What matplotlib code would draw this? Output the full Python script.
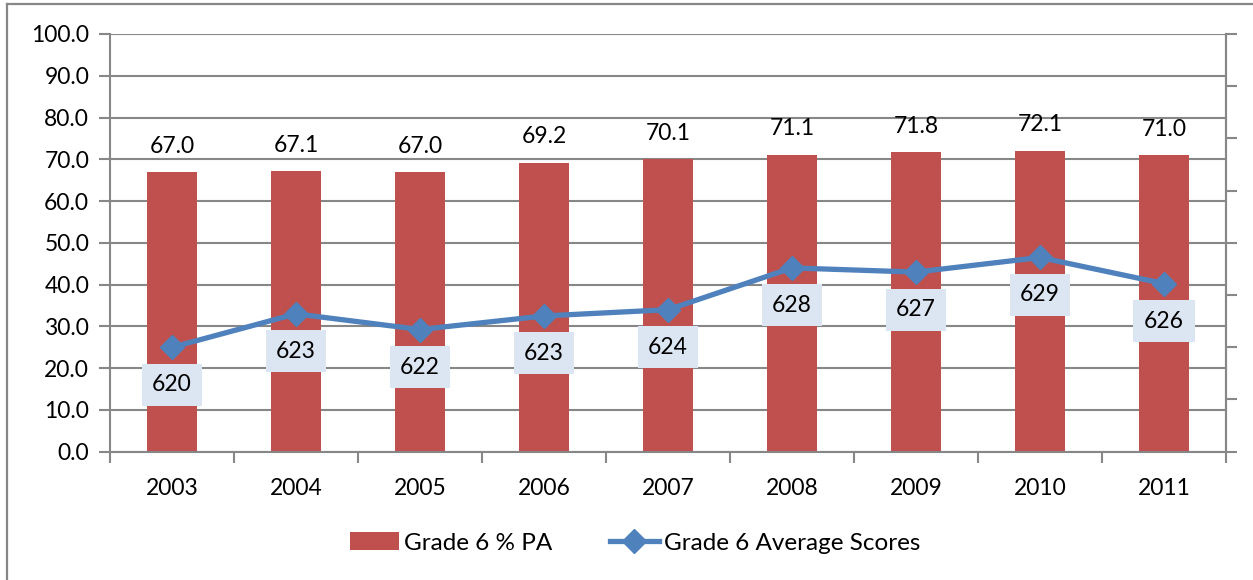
import numpy as np
import matplotlib.pyplot as plt
from matplotlib.lines import Line2D

# ============================================================
# Data
# ============================================================
years = ["2003", "2004", "2005", "2006", "2007", "2008", "2009", "2010", "2011"]
pct_pa = [67.0, 67.1, 67.0, 69.2, 70.1, 71.1, 71.8, 72.1, 71.0]
avg_scores = [620.0, 623.2, 621.7, 623.0, 623.6, 627.6, 627.2, 628.6, 626.1]

BAR_COLOR = "#C0504D"
LINE_COLOR = "#4F81BD"
LABEL_BG = "#DCE6F2"
GRID = "#878787"

plt.rcParams['font.family'] = ['Lato', 'DejaVu Sans']
FS = 16.5

# ============================================================
# Figure
# ============================================================
fig = plt.figure(figsize=(12.53, 5.8), dpi=100)

# outer frame (only left and top edges visible)
fig.add_artist(Line2D([7/1253, 7/1253], [0, 576/580], color=GRID, lw=1.6,
                      transform=fig.transFigure))
fig.add_artist(Line2D([7/1253, 1], [576/580, 576/580], color=GRID, lw=1.6,
                      transform=fig.transFigure))
# title sits above the visible area, only its descender shows
fig.text(4/1253, 1.0 + 9/580, "Figure", fontsize=18, fontweight="bold",
         va="baseline", ha="left")

ax = fig.add_axes([110/1253, 1 - 451.7/580, (1226 - 110)/1253, (451.7 - 34)/580])
x = np.arange(len(years))

bars = ax.bar(x, pct_pa, width=0.4, color=BAR_COLOR, zorder=2,
              label="Grade 6 % PA")
for xi, v in zip(x, pct_pa):
    ax.annotate(f"{v:.1f}", (xi, v), xytext=(0, 11), textcoords="offset points",
                ha="center", va="bottom", fontsize=FS)

ax.set_xlim(-0.5, len(years) - 0.5)
ax.set_ylim(0, 100)
ax.set_yticks(np.arange(0, 101, 10))
ax.set_yticklabels([f"{v:.1f}" for v in np.arange(0, 101, 10)], fontsize=FS)
ax.yaxis.grid(True, color=GRID, lw=1.5, zorder=0)
ax.set_axisbelow(True)

ax.set_xticks(x)
ax.set_xticklabels(years, fontsize=FS)
ax.set_xticks(np.arange(-0.5, len(years), 1), minor=True)
ax.tick_params(axis="x", which="major", length=0, pad=19)
ax.tick_params(axis="x", which="minor", length=8, width=1.5, color=GRID, direction="out")
ax.tick_params(axis="y", length=8, width=1.5, color=GRID, direction="out", pad=7)

for side in ["left", "bottom", "right"]:
    ax.spines[side].set_color(GRID)
    ax.spines[side].set_linewidth(1.5)
ax.spines["top"].set_visible(False)

# secondary axis for average scores (labels hidden)
ax2 = ax.twinx()
ax2.set_ylim(610, 650)
ax2.set_yticks(np.arange(610, 651, 5))
ax2.set_yticklabels([])
ax2.tick_params(axis="y", length=8, width=1.5, color=GRID, direction="out")
for side in ["left", "bottom", "top"]:
    ax2.spines[side].set_visible(False)
ax2.spines["right"].set_color(GRID)
ax2.spines["right"].set_linewidth(1.5)

line, = ax2.plot(x, avg_scores, color=LINE_COLOR, lw=3.8, marker="D",
                 markersize=12, zorder=3, label="Grade 6 Average Scores")
for xi, v in zip(x, avg_scores):
    ax2.annotate(f"{v:.0f}", (xi, v), xytext=(0, -27), textcoords="offset points",
                 ha="center", va="center", fontsize=FS,
                 bbox=dict(boxstyle="square,pad=0.46", fc=LABEL_BG, ec="none"))

fig.legend(handles=[bars, line], loc="center", bbox_to_anchor=(635/1253, 1 - 543/580),
           ncol=2, frameon=False, fontsize=FS + 1, handlelength=2.0, handletextpad=0.2,
           columnspacing=2.4)

fig.savefig("out.png", dpi=100)
